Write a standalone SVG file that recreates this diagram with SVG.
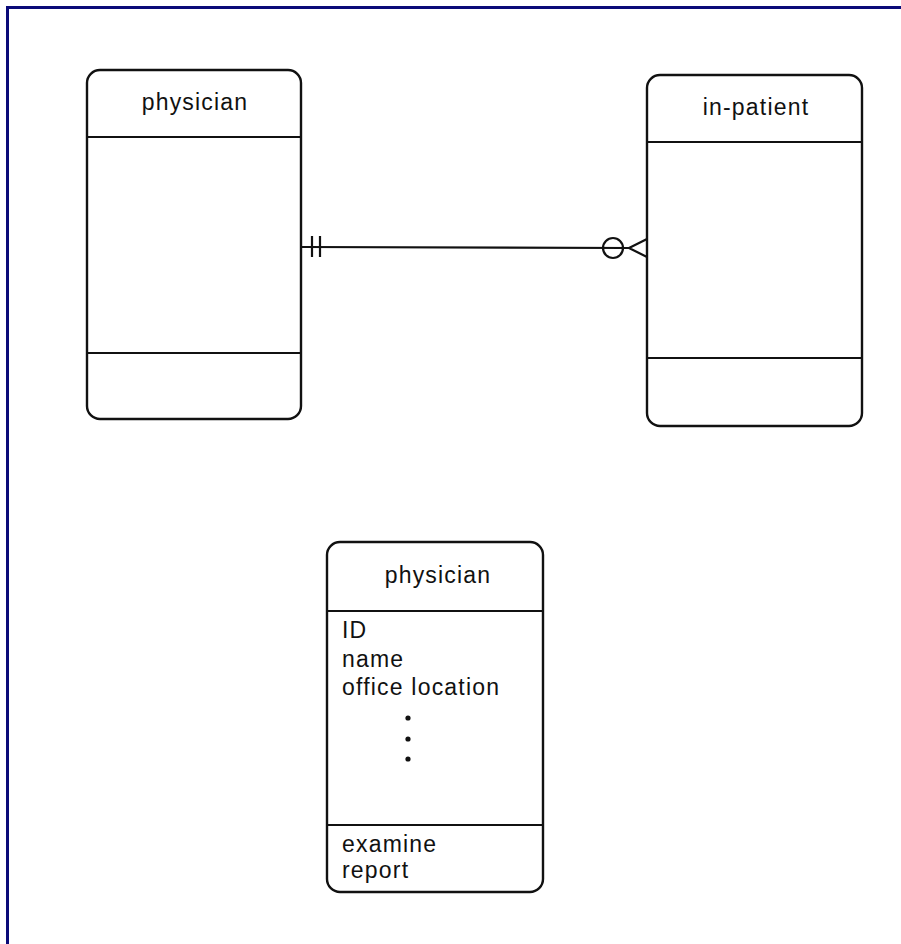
<svg xmlns="http://www.w3.org/2000/svg" width="901" height="944" viewBox="0 0 901 944">
<style>
.box{fill:#fff;stroke:#111;stroke-width:2.4}
.div{stroke:#111;stroke-width:2.2}
.t{font-family:"Liberation Sans",Arial,sans-serif;font-size:23px;letter-spacing:1.2px;fill:#111}
.c{text-anchor:middle}
.conn{stroke:#111;stroke-width:2.2;fill:none}
</style>
<rect x="0" y="0" width="901" height="944" fill="#fff"/>
<path d="M7.5,944 V7.5 H901" fill="none" stroke="#0a0a78" stroke-width="3"/>
<g id="physician1">
<rect class="box" x="87" y="70" width="214" height="349" rx="13"/>
<line class="div" x1="87" y1="137" x2="301" y2="137"/>
<line class="div" x1="87" y1="353" x2="301" y2="353"/>
<text class="t c" x="195" y="110">physician</text>
</g>
<g id="inpatient">
<rect class="box" x="647" y="75" width="215" height="351" rx="13"/>
<line class="div" x1="647" y1="142" x2="862" y2="142"/>
<line class="div" x1="647" y1="358" x2="862" y2="358"/>
<text class="t c" x="756" y="115">in-patient</text>
</g>
<g id="physician2">
<rect class="box" x="327" y="542" width="216" height="350" rx="13"/>
<line class="div" x1="327" y1="611" x2="543" y2="611"/>
<line class="div" x1="327" y1="825" x2="543" y2="825"/>
<text class="t c" x="438" y="583">physician</text>
<text class="t" x="342" y="638">ID</text>
<text class="t" x="342" y="667">name</text>
<text class="t" x="342" y="695">office location</text>
<circle cx="408" cy="718" r="2.6" fill="#111"/>
<circle cx="408" cy="739" r="2.6" fill="#111"/>
<circle cx="408" cy="759" r="2.6" fill="#111"/>
<text class="t" x="342" y="852">examine</text>
<text class="t" x="342" y="878">report</text>
</g>
<g id="connectors">
<line class="conn" x1="301" y1="247" x2="629" y2="248"/>
<line class="conn" x1="312" y1="236" x2="312" y2="257"/>
<line class="conn" x1="320" y1="236" x2="320" y2="257"/>
<circle class="conn" cx="613" cy="248" r="10"/>
<polyline class="conn" points="647,239 629,248 647,257"/>
</g>
</svg>
